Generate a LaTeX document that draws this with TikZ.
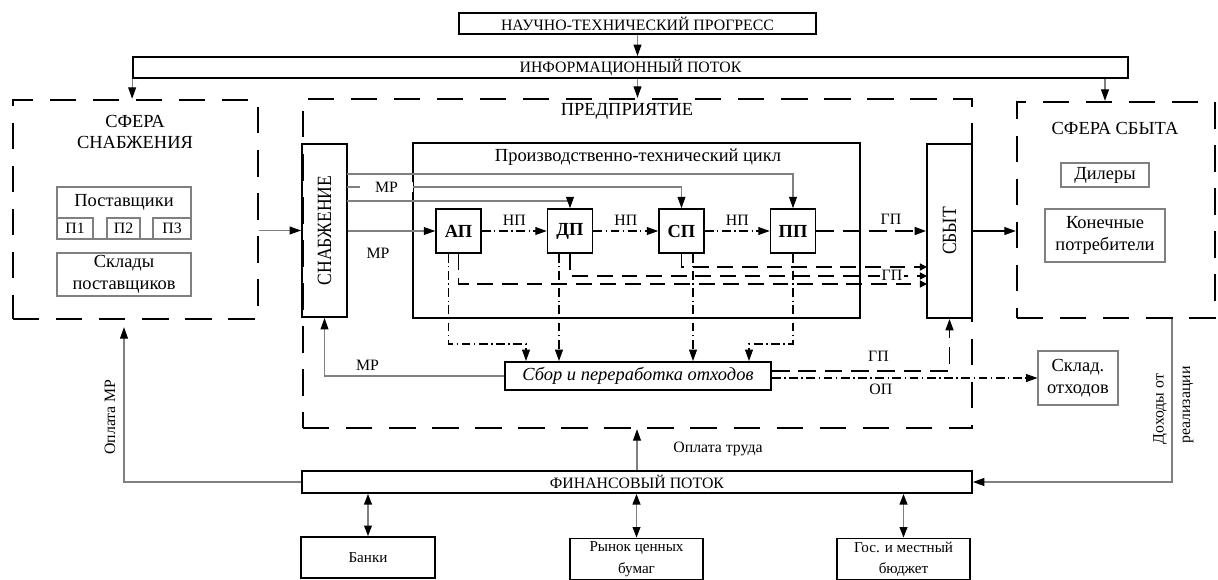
\documentclass[tikz,border=0pt]{standalone}
\usepackage{fontspec}
\setmainfont{Liberation Serif}
\newfontfamily\narrowserif[FakeStretch=0.87]{Liberation Serif}
\usetikzlibrary{arrows.meta}
\newcommand{\fsmall}{\fontsize{9}{12.5}\selectfont}
\newcommand{\fbottom}{\fontsize{8.6}{12.2}\selectfont}
\newcommand{\fmid}{\fontsize{9}{10.5}\selectfont}
\newcommand{\fbig}{\fontsize{10.5}{12.2}\selectfont}

\begin{document}
\begin{tikzpicture}[x=0.02cm,y=-0.02cm,
            tip/.style={-{Triangle[length=6.5pt,width=4.5pt,color=black]}},
            smalltip/.style={-{Triangle[length=4pt,width=4pt,color=black]}},
            twotip/.style={{Triangle[length=6pt,width=4.5pt,color=black]}-{Triangle[length=6pt,width=4.5pt,color=black]}},
            box/.style={draw,line width=1.1pt,inner sep=0pt,align=center},
            unit/.style={draw,line width=0.9pt,inner sep=0pt,minimum width=0.9cm,minimum height=0.88cm,font=\bfseries\fbig},
            thinbox/.style={draw=gray,line width=0.6pt,inner sep=0pt,align=center,font=\fbig},
            frame/.style={draw,line width=1.4pt,dash pattern=on 15pt off 9.5pt,inner sep=0pt},
            feed/.style={gray,line width=0.6pt,tip},
            gp/.style={line width=1pt,dash pattern=on 10pt off 5pt},
            gpthin/.style={line width=0.8pt,dash pattern=on 9pt off 5pt},
            op/.style={line width=0.6pt,dash pattern=on 5pt off 2pt on 0.8pt off 2pt},
            lbl/.style={inner sep=1pt,text=black,font=\fmid}]
            \useasboundingbox (0,0) rectangle (1218,579);

            \node[frame,minimum width=4.9cm,minimum height=4.38cm] (supsphere) at (135.5,209.5) {};
            \node[frame,minimum width=13.38cm,minimum height=6.58cm] (firm) at (637.5,263.5) {};
            \node[frame,minimum width=3.96cm,minimum height=4.32cm] (salesphere) at (1116,210) {};
            \node[align=center,font=\fbig] (supttl) at (135,132) {СФЕРА\\СНАБЖЕНИЯ};
            \node[font=\fbig] (firmttl) at (627,111) {ПРЕДПРИЯТИЕ};
            \node[font=\fbig] (salettl) at (1115,128) {СФЕРА СБЫТА};

            \node[box,minimum width=7.14cm,minimum height=0.42cm,font=\fsmall] (ntp) at (637.5,23.5) {НАУЧНО-ТЕХНИЧЕСКИЙ ПРОГРЕСС};
            \node[box,minimum width=19.9cm,minimum height=0.42cm,font=\fsmall] (info) at (630.5,67.5) {ИНФОРМАЦИОННЫЙ ПОТОК};

            \node[thinbox,minimum width=2.68cm,minimum height=1.04cm] (suppliers) at (124,213) {};
            \node[font=\fbig] (suphead) at (124,202) {Поставщики};
            \node[thinbox,minimum width=0.72cm,minimum height=0.42cm,font=\fmid] (p1) at (75,228.5) {П1};
            \node[thinbox,minimum width=0.66cm,minimum height=0.42cm,font=\fmid] (p2) at (123.5,228.5) {П2};
            \node[thinbox,minimum width=0.76cm,minimum height=0.42cm,font=\fmid] (p3) at (172,228.5) {П3};
            \node[thinbox,minimum width=2.68cm,minimum height=0.86cm] (stores) at (124,274.5) {Склады\\поставщиков};

            \node[box,minimum width=0.9cm,minimum height=3.46cm] (supply) at (324.5,230.5) {};
            \node[rotate=90,font={\narrowserif\fontsize{11.5}{13}\selectfont}] (supplytxt) at (supply) {СНАБЖЕНИЕ};
            \node[box,minimum width=8.94cm,minimum height=3.5cm] (cycle) at (636.5,230.5) {};
            \node[font=\fbig] (cyclettl) at (638,157) {Производственно-технический цикл};
            \node[unit] (ap) at (458.5,231) {АП};
            \node[unit] (dp) at (570,231) {ДП};
            \node[unit] (sp) at (681.5,231) {СП};
            \node[unit] (pp) at (793,231) {ПП};
            \node[box,minimum width=0.9cm,minimum height=3.48cm] (sales) at (949.5,231) {};
            \node[rotate=90,font={\narrowserif\fontsize{11.5}{13}\selectfont}] (salestxt) at (sales) {СБЫТ};
            \node[box,minimum width=5.32cm,minimum height=0.56cm,font=\itshape\fbig] (waste) at (638,376) {Сбор и переработка отходов};

            \node[thinbox,minimum width=1.76cm,minimum height=0.48cm] (dealers) at (1105,175) {Дилеры};
            \node[thinbox,minimum width=2.4cm,minimum height=1.06cm] (consumers) at (1105,235.5) {Конечные\\потребители};
            \node[thinbox,minimum width=1.6cm,minimum height=1.08cm] (wstore) at (1078,378) {Склад.\\отходов};

            \node[box,minimum width=13.4cm,minimum height=0.44cm,font=\fsmall] (fin) at (637,482) {ФИНАНСОВЫЙ ПОТОК};
            \node[box,minimum width=2.68cm,minimum height=0.82cm,font=\fbottom] (banks) at (368,557.5) {Банки};
            \node[box,minimum width=2.66cm,minimum height=0.82cm,font=\fbottom] (market) at (636.5,559) {Рынок ценных\\бумаг};
            \node[box,minimum width=2.66cm,minimum height=0.82cm,font=\fbottom] (budget) at (903.5,559) {Гос. и местный\\бюджет};

            \coordinate (rpp) at (347,174);
            \coordinate (rsp) at (347,187);
            \coordinate (rdp) at (347,201);
            \coordinate (gsp) at (927,267);
            \coordinate (gdp) at (927,276);
            \coordinate (gap) at (927,284);
            \coordinate (apbend) at (526,344);
            \coordinate (ppbend) at (749,344);

            \draw[feed] (ntp.south) -- (ntp.south |- info.north);
            \draw[feed] (info.south west) -- (info.south west |- supsphere.north);
            \draw[feed] (firm.north |- info.south) -- (firm.north);
            \draw[feed] (dealers |- info.south) -- (dealers |- salesphere.north);

            \draw[feed] (supsphere.east |- supply) -- (supply.west);
            \draw[feed] (supply.east |- ap) -- (ap.west);
            \draw[feed] (rdp) -| (dp.north);
            \draw[feed] (rsp) -| (sp.north);
            \draw[feed] (rpp) -| (pp.north);
            \node[lbl,fill=white,minimum width=1.06cm,inner ysep=0pt] (mr1) at (386.5,187) {МР};
            \node[lbl] (mr2) at (378,253) {МР};

            \draw[op,tip] (ap.east) -- (dp.west) node[lbl,midway,above=2pt] (np1) {НП};
            \draw[op,tip] (dp.east) -- (sp.west) node[lbl,midway,above=2pt] (np2) {НП};
            \draw[op,tip] (sp.east) -- (pp.west) node[lbl,midway,above=2pt] (np3) {НП};
            \draw[gp,tip] (pp.east) -- (sales.west |- pp) node[lbl,pos=0.68,above=2pt] (gp1) {ГП};

            \draw[gpthin,smalltip] (sp.south) |- (gsp);
            \draw[gpthin,smalltip] (dp.south) |- (gdp);
            \draw[gpthin,smalltip] (ap.south) |- (gap);
            \node[lbl,fill=white,inner ysep=0pt] (gp2) at (892,275) {ГП};

            \draw[op,tip] ([xshift=-0.2cm]ap.south) |- (apbend) -- (apbend |- waste.north);
            \draw[op,tip] ([xshift=-0.22cm]dp.south) -- ([xshift=-0.22cm]dp.south |- waste.north);
            \draw[op,tip] ([xshift=0.23cm]sp.south) -- ([xshift=0.23cm]sp.south |- waste.north);
            \draw[op,tip] (pp.south) |- (ppbend) -- (ppbend |- waste.north);

            \draw[feed] (waste.west) -| (supply.south) node[lbl,pos=0.38,above=2pt] (mr3) {МР};
            \draw[gp,tip] ([yshift=0.1cm]waste.east) -| (sales.south) node[lbl,pos=0.3,above=4pt] (gp3) {ГП};
            \draw[op,tip] (waste.east |- wstore) -- (wstore.west) node[lbl,pos=0.41,below=2pt] (oplbl) {ОП};
            \draw[feed,black] (sales.east) -- (salesphere.west |- sales);

            \draw[feed] (fin.north) -- (fin.north |- firm.south);
            \node[lbl,font=\fsmall] (paylbl) at (718,449) {Оплата труда};
            \draw[feed] (fin.west) -| ([xshift=-0.23cm,yshift=-0.14cm]supsphere.south);
            \node[lbl,rotate=90,font=\fsmall] (paymr) at (110,417) {Оплата МР};
            \draw[feed] ([xshift=1.12cm]salesphere.south) |- (fin.east);
            \node[lbl,rotate=90,font=\fsmall] (inc1) at (1160,409) {Доходы от};
            \node[lbl,rotate=90,font=\fsmall] (inc2) at (1188,405) {реализации};

            \draw[gray,line width=0.6pt,twotip] (banks.north |- fin.south) -- (banks.north);
            \draw[gray,line width=0.6pt,twotip] (market.north |- fin.south) -- (market.north);
            \draw[gray,line width=0.6pt,twotip] (budget.north |- fin.south) -- (budget.north);
        \end{tikzpicture}
\end{document}
